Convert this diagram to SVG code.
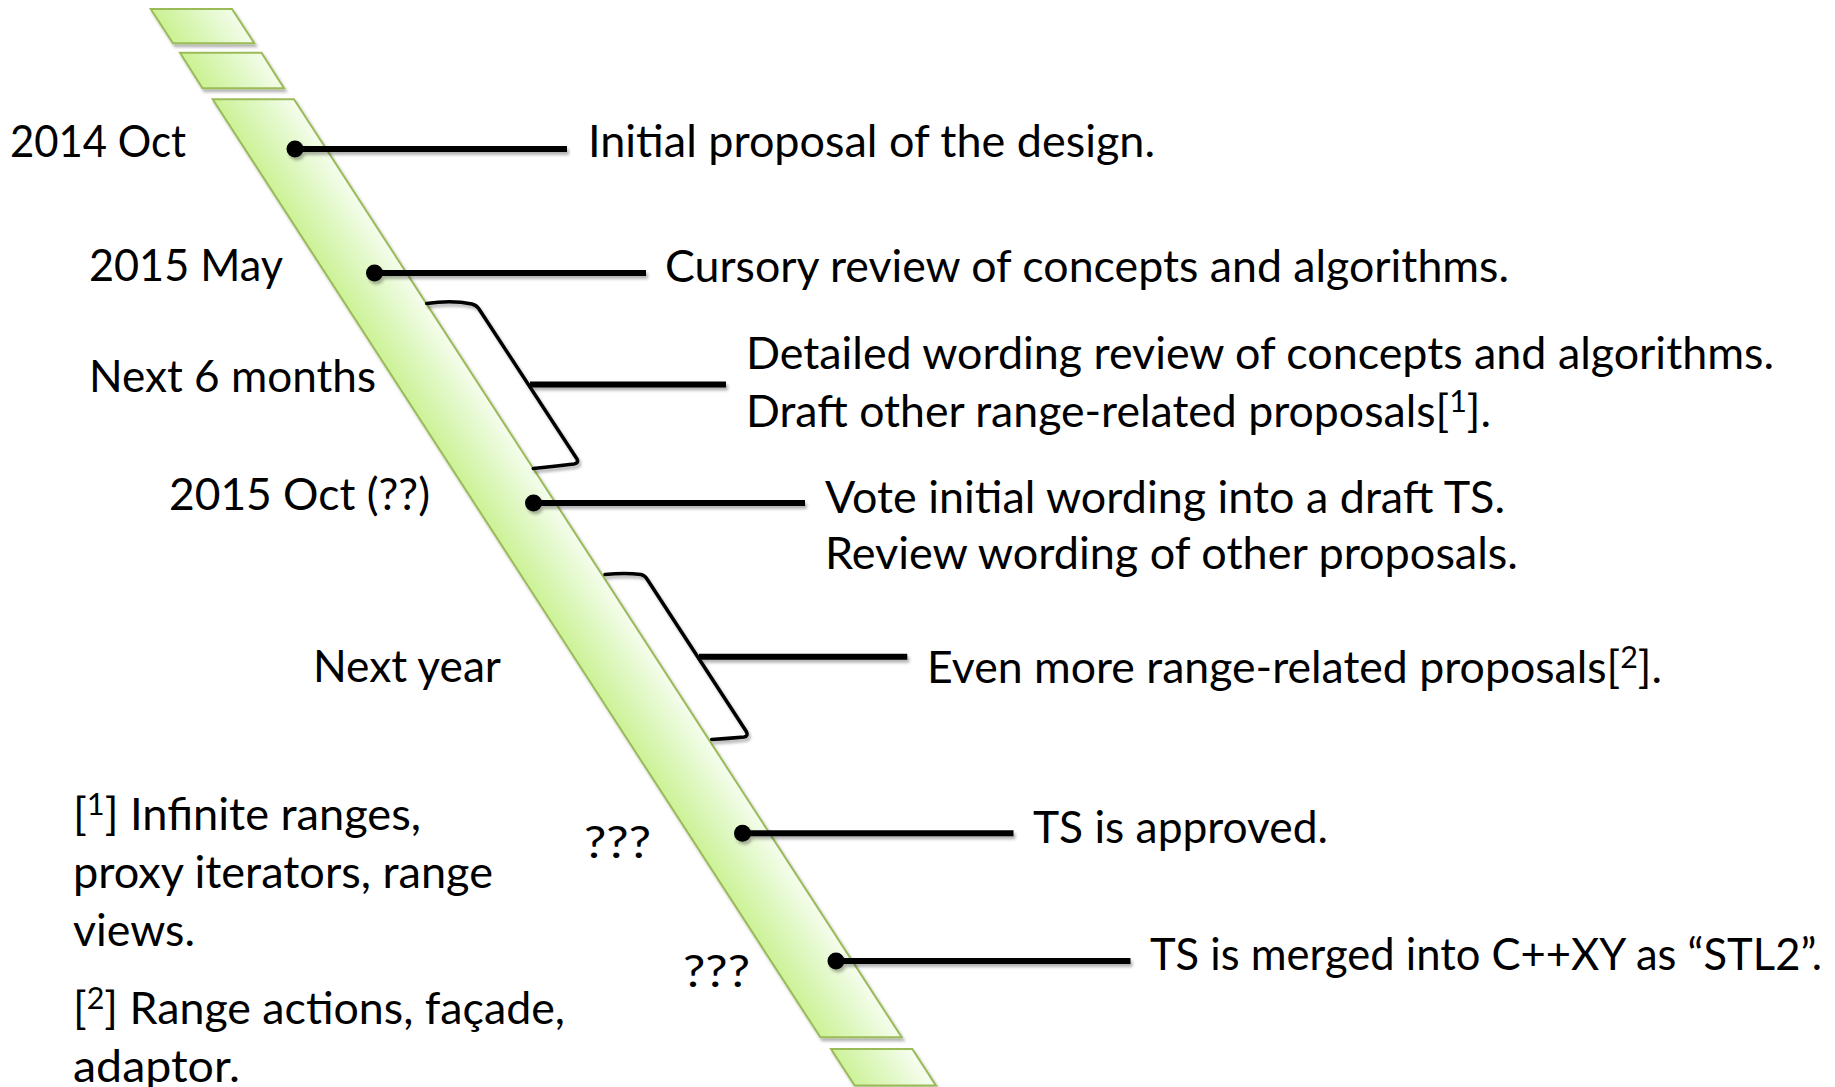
<svg xmlns="http://www.w3.org/2000/svg" width="1835" height="1087" viewBox="0 0 1835 1087">
  <defs>
    <!-- soft fill across the width of the slanted timeline band -->
    <linearGradient id="bandFill" gradientUnits="userSpaceOnUse" x1="212.7" y1="99.3" x2="270" y2="62.2">
      <stop offset="0" stop-color="#ccf296"/>
      <stop offset="0.55" stop-color="#e1f8c6"/>
      <stop offset="1" stop-color="#f5fded"/>
    </linearGradient>
    <filter id="shadow" filterUnits="userSpaceOnUse" x="0" y="0" width="1835" height="1087">
      <feGaussianBlur in="SourceAlpha" stdDeviation="1.8"/>
      <feOffset dx="1.5" dy="2.5"/>
      <feComponentTransfer><feFuncA type="linear" slope="0.3"/></feComponentTransfer>
      <feMerge><feMergeNode/><feMergeNode in="SourceGraphic"/></feMerge>
    </filter>
    <style>
      .band { fill: url(#bandFill); stroke: #9bbb59; stroke-width: 2; stroke-linejoin: miter; }
      .lead { stroke: #000; stroke-width: 6; fill: none; }
      .brace { stroke: #000; stroke-width: 3.5; fill: none; stroke-linejoin: round; stroke-linecap: round; }
      .dot { fill: #000; }
      text { font-family: Lato, "Liberation Sans", sans-serif; font-size: 44px; fill: #000; }
      .sup { font-size: 30px; }
    </style>
  </defs>

  <rect width="1835" height="1087" fill="#ffffff"/>

  <!-- slanted timeline band and its broken-off ends -->
  <g id="timeline" filter="url(#shadow)">
    <polygon class="band" points="150.7,9 232,9 254.3,43.3 173,43.3"/>
    <polygon class="band" points="180,52.7 261.5,52.7 284,88.3 202.5,88.3"/>
    <polygon class="band" points="212.7,99.3 294,99.3 901.7,1037.3 820.4,1037.3"/>
    <polygon class="band" points="831,1049 912.3,1049 936,1085.6 854.7,1085.6"/>
  </g>

  <!-- leader lines, markers and span braces -->
  <g id="connectors" filter="url(#shadow)">
    <line class="lead" x1="295" y1="149" x2="567" y2="149"/>
    <circle class="dot" cx="295" cy="149" r="8.5"/>

    <line class="lead" x1="374.5" y1="273" x2="646" y2="273"/>
    <circle class="dot" cx="374.5" cy="273" r="8.5"/>

    <path class="brace" d="M426.7,303.5 Q452,300 472,304 Q477,305.5 479,309 L577,459 Q579,463 574,464 Q553,466.5 533.3,468.5"/>
    <line class="lead" x1="530" y1="384.5" x2="726" y2="384.5"/>

    <line class="lead" x1="533.5" y1="503" x2="805" y2="503"/>
    <circle class="dot" cx="533.5" cy="503" r="8.5"/>

    <path class="brace" d="M605,574.5 Q625,572.5 641,574.5 Q645,575.5 647,579 L746,731 Q749,736 744,737 Q728,738.5 711.7,739.5"/>
    <line class="lead" x1="699" y1="656.7" x2="907.3" y2="656.7"/>

    <line class="lead" x1="742.5" y1="833.3" x2="1013.5" y2="833.3"/>
    <circle class="dot" cx="742.5" cy="833.3" r="8.5"/>

    <line class="lead" x1="836" y1="961" x2="1130.5" y2="961"/>
    <circle class="dot" cx="836" cy="961" r="8.5"/>
  </g>

  <!-- dates along the band -->
  <g id="date-2014-oct"><text x="10" y="156.5" textLength="176" lengthAdjust="spacingAndGlyphs">2014 Oct</text></g>
  <g id="date-2015-may"><text x="89" y="280.5" textLength="194" lengthAdjust="spacingAndGlyphs">2015 May</text></g>
  <g id="span-6-months"><text x="89" y="391.5" textLength="287" lengthAdjust="spacingAndGlyphs">Next 6 months</text></g>
  <g id="date-2015-oct"><text x="169" y="509.5" textLength="261" lengthAdjust="spacingAndGlyphs">2015 Oct (??)</text></g>
  <g id="span-next-year"><text x="313" y="681.5" textLength="188" lengthAdjust="spacingAndGlyphs">Next year</text></g>
  <g id="date-approval"><text x="584" y="858" textLength="67" lengthAdjust="spacingAndGlyphs">???</text></g>
  <g id="date-merge"><text x="683" y="987" textLength="67" lengthAdjust="spacingAndGlyphs">???</text></g>

  <!-- milestone descriptions -->
  <g id="event-initial"><text x="588" y="157" textLength="567" lengthAdjust="spacingAndGlyphs">Initial proposal of the design.</text></g>
  <g id="event-cursory"><text x="665" y="282" textLength="844" lengthAdjust="spacingAndGlyphs">Cursory review of concepts and algorithms.</text></g>
  <g id="event-detailed">
    <text x="746" y="368.5" textLength="1028" lengthAdjust="spacingAndGlyphs">Detailed wording review of concepts and algorithms.</text>
    <text x="746" y="426.5" textLength="745" lengthAdjust="spacingAndGlyphs">Draft other range-related proposals[<tspan class="sup" dy="-15">1</tspan><tspan dy="15">].</tspan></text>
  </g>
  <g id="event-vote">
    <text x="825" y="512.5" textLength="680" lengthAdjust="spacingAndGlyphs">Vote initial wording into a draft TS.</text>
    <text x="825" y="568.5" textLength="693" lengthAdjust="spacingAndGlyphs">Review wording of other proposals.</text>
  </g>
  <g id="event-more"><text x="927" y="682.5" textLength="735" lengthAdjust="spacingAndGlyphs">Even more range-related proposals[<tspan class="sup" dy="-15">2</tspan><tspan dy="15">].</tspan></text></g>
  <g id="event-approved"><text x="1033" y="843" textLength="295" lengthAdjust="spacingAndGlyphs">TS is approved.</text></g>
  <g id="event-merged"><text x="1150" y="970" textLength="672" lengthAdjust="spacingAndGlyphs">TS is merged into C++XY as “STL2”.</text></g>

  <!-- footnotes -->
  <g id="note-1">
    <text x="73" y="830" textLength="348" lengthAdjust="spacingAndGlyphs">[<tspan class="sup" dy="-15">1</tspan><tspan dy="15">] Infinite ranges,</tspan></text>
    <text x="73" y="888" textLength="420" lengthAdjust="spacingAndGlyphs">proxy iterators, range</text>
    <text x="73" y="945.5" textLength="122" lengthAdjust="spacingAndGlyphs">views.</text>
  </g>
  <g id="note-2">
    <text x="73" y="1024" textLength="492" lengthAdjust="spacingAndGlyphs">[<tspan class="sup" dy="-15">2</tspan><tspan dy="15">] Range actions, façade,</tspan></text>
    <text x="73" y="1081.5" textLength="167" lengthAdjust="spacingAndGlyphs">adaptor.</text>
  </g>
</svg>
